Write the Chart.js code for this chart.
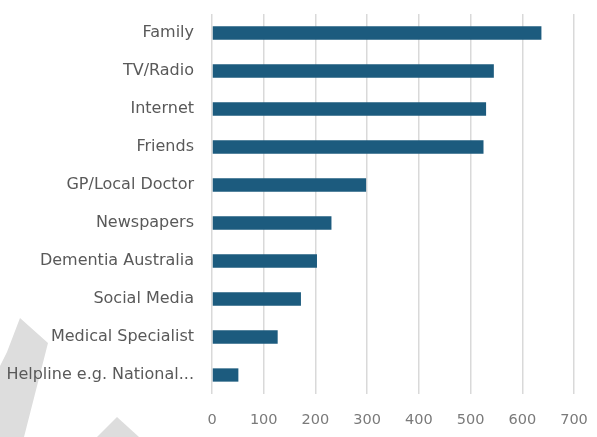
<!DOCTYPE html>
<html>
<head>
<meta charset="utf-8">
<script src="https://cdn.jsdelivr.net/npm/chart.js@4/dist/chart.umd.min.js"></script>
<style>
    html, body { margin: 0; padding: 0; background: #ffffff; }
    #wrap { width: 597px; height: 437px; position: relative; }
</style>
</head>
<body>
<div id="wrap"><canvas id="sourcesChart" width="597" height="437"></canvas></div>
<script>
// Where people got information (counts)
const categories = [
    'Family', 'TV/Radio', 'Internet', 'Friends', 'GP/Local Doctor',
    'Newspapers', 'Dementia Australia', 'Social Media', 'Medical Specialist',
    'Helpline e.g. National...'
];
const responses = [637, 545, 530, 525, 298, 231, 203, 172, 127, 51];
const xTicks = [0, 100, 200, 300, 400, 500, 600, 700];

// light grey shapes sitting behind the chart in the bottom left corner
const backdropShapes = {
    id: 'backdropShapes',
    beforeDraw(chart) {
        const ctx = chart.ctx;
        ctx.save();
        ctx.fillStyle = '#dddddd';
        ctx.beginPath();
        ctx.moveTo(20, 318);
        ctx.lineTo(48, 343);
        ctx.lineTo(24, 437);
        ctx.lineTo(0, 437);
        ctx.lineTo(0, 366);
        ctx.lineTo(7, 352);
        ctx.closePath();
        ctx.fill();
        ctx.beginPath();
        ctx.moveTo(117, 417);
        ctx.lineTo(139, 437);
        ctx.lineTo(97, 437);
        ctx.closePath();
        ctx.fill();
        ctx.restore();
    }
};

function noScalePadding(scale) {
    scale.paddingTop = 0;
    scale.paddingBottom = 0;
    scale.paddingLeft = 0;
    scale.paddingRight = 0;
}

const ctx = document.getElementById('sourcesChart');
new Chart(ctx, {
    type: 'bar',
    data: {
        labels: categories,
        datasets: [{
            data: responses,
            backgroundColor: '#1c5b7e',
            borderWidth: 0,
            categoryPercentage: 1,
            barPercentage: 0.35
        }]
    },
    options: {
        indexAxis: 'y',
        responsive: false,
        animation: false,
        layout: { padding: { top: 14, right: 23, bottom: 0, left: 0 } },
        plugins: {
            legend: { display: false },
            tooltip: { enabled: false }
        },
        scales: {
            x: {
                min: 0,
                max: 700,
                afterBuildTicks: (scale) => { scale.ticks = xTicks.map(v => ({ value: v })); },
                afterFit: (scale) => { scale.height = 43; noScalePadding(scale); },
                grid: { color: '#d9d9d9', lineWidth: 1.5, drawTicks: false },
                border: { display: false },
                ticks: {
                    padding: 18,
                    color: '#7a7a7a',
                    font: { family: 'DejaVu Sans', size: 14.5 }
                }
            },
            y: {
                grid: { display: false, drawTicks: false },
                border: { display: false },
                afterFit: (scale) => { scale.width = 212; noScalePadding(scale); },
                ticks: {
                    padding: 18,
                    color: '#595959',
                    autoSkip: false,
                    font: { family: 'DejaVu Sans', size: 16 }
                }
            }
        }
    },
    plugins: [backdropShapes]
});
</script>
</body>
</html>
